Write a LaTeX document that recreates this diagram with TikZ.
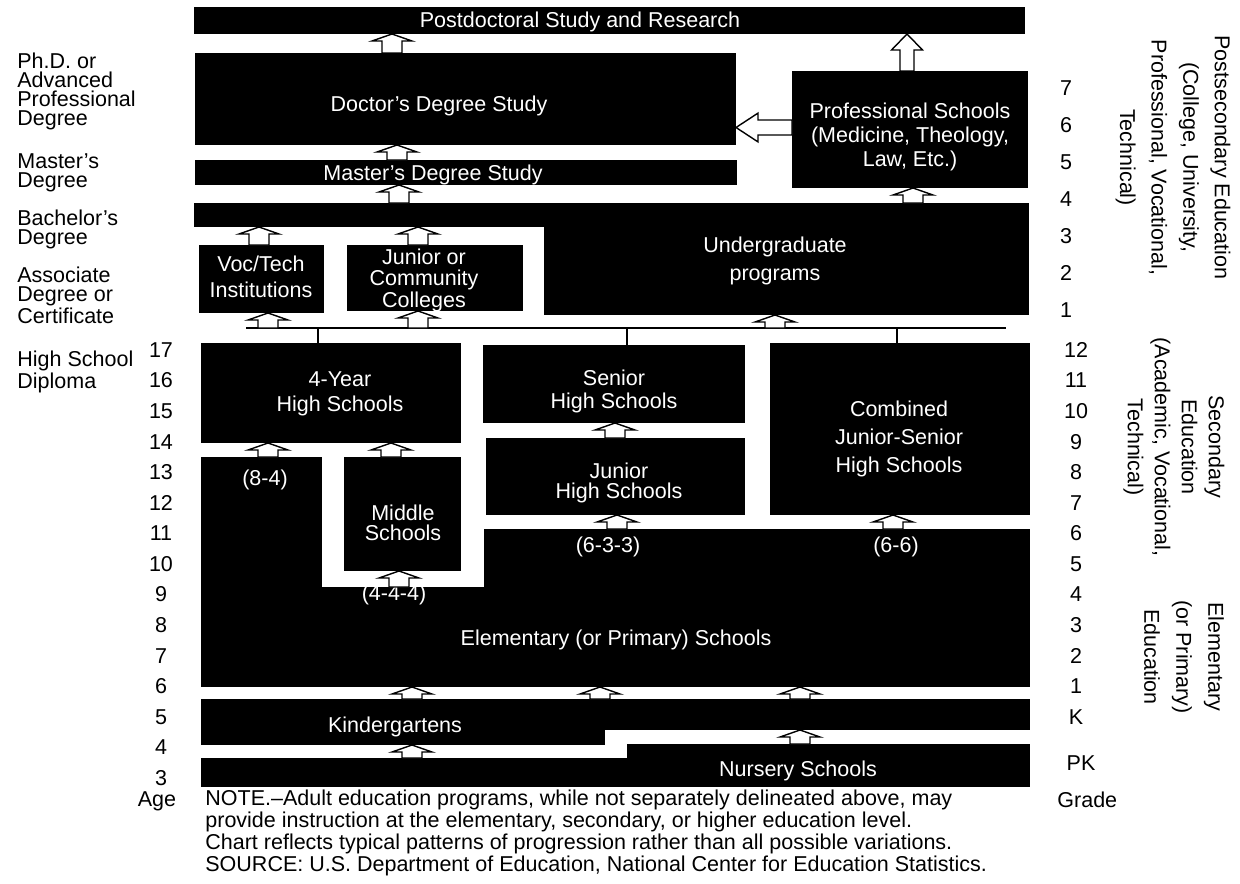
\documentclass[tikz,border=0pt]{standalone}
\usepackage{fontspec}
\setmainfont{Liberation Sans}
\usetikzlibrary{calc}

\newcommand{\fz}[1]{\fontsize{10.75pt}{#1pt}\selectfont}
% black box from (x1,y1) to (x2,y2), pixel units
\newcommand{\blkbox}[5]{\node[blk, anchor=north west,
  minimum width={(#4-#2)*0.5pt}, minimum height={(#5-#3)*0.5pt}] (#1) at (#2,#3) {};}
% small hollow arrow at x, from lower anchor up to upper anchor
\newcommand{\upblk}[3]{\draw[hollow] let \p1=(#1,0 |- #2), \p2=(#1,0 |- #3) in
  (\x1-5pt,\y1) -- (\x1-5pt,\y2-3.5pt) -- (\x1-10pt,\y2-3.5pt) -- (\x1,\y2)
  -- (\x1+10pt,\y2-3.5pt) -- (\x1+5pt,\y2-3.5pt) -- (\x1+5pt,\y1) -- cycle;}
\newcommand{\upbig}[3]{\draw[hollow] let \p1=(#1,0 |- #2), \p2=(#1,0 |- #3) in
  (\x1-3.5pt,\y1) -- (\x1-3.5pt,\y2-8pt) -- (\x1-7.75pt,\y2-8pt) -- (\x1,\y2)
  -- (\x1+7.75pt,\y2-8pt) -- (\x1+3.5pt,\y2-8pt) -- (\x1+3.5pt,\y1) -- cycle;}
\newcommand{\leftbig}[3]{\draw[hollow] let \p1=(0,#1 -| #2), \p2=(0,#1 -| #3) in
  (\x1,\y1-3.75pt) -- (\x2+11pt,\y1-3.75pt) -- (\x2+11pt,\y1-7.2pt) -- (\x2,\y1)
  -- (\x2+11pt,\y1+7.2pt) -- (\x2+11pt,\y1+3.75pt) -- (\x1,\y1+3.75pt) -- cycle;}

\tikzset{
  blk/.style={fill=black, inner sep=0pt, outer sep=0pt},
  intext/.style={text=white, align=center, inner sep=0pt},
  lab/.style={align=left, anchor=west, inner sep=0pt},
  side/.style={rotate=-90, align=center, inner sep=0pt},
  hollow/.style={draw=black, fill=white, line width=0.7pt, line join=miter},
}

\begin{document}
\begin{tikzpicture}[x=0.5pt, y=-0.5pt, font=\fz{11.5}]
\useasboundingbox (0,0) rectangle (1240,883);

% boxes
\blkbox{postdoc}{194}{7}{1025}{34}
\blkbox{doc}{195}{53}{736}{145}
\blkbox{master}{195}{160}{737}{185}
\blkbox{prof}{792}{71}{1028}{188}
\blkbox{bach}{194}{203}{1029}{227}
\blkbox{ugrad}{544}{203}{1029}{315}
\blkbox{voc}{199}{245}{324}{313}
\blkbox{jrcol}{347}{245}{523}{311}
\blkbox{hsfour}{201}{343}{461}{443}
\blkbox{senior}{483}{345}{745}{423}
\blkbox{combo}{770}{343}{1030}{515}
\blkbox{junior}{486}{438}{745}{515}
\blkbox{middle}{344}{457}{461}{571}
\blkbox{elemcol}{201}{457}{322}{687}
\blkbox{elemrt}{484}{529}{1030}{687}
\blkbox{elem}{201}{587}{1030}{687}
\blkbox{kg}{201}{699}{1030}{730}
\blkbox{kgleft}{201}{699}{605}{745}
\blkbox{nurrt}{627}{744}{1030}{787}
\blkbox{nur}{201}{758}{1030}{787}

% texts in boxes
\node[intext] (tpostdoc) at (580,21.5) {Postdoctoral Study and Research};
\node[intext] (tdoc) at (439,106) {Doctor's Degree Study};
\node[intext] (tmaster) at (433,175) {Master's Degree Study};
\node[intext, font=\fz{12}] (tprof) at (910,137) {Professional Schools\\(Medicine, Theology,\\Law, Etc.)};
\node[intext, font=\fz{14}] (tugrad) at (775,261) {Undergraduate\\programs};
\node[intext, font=\fz{13}] (tvoc) at (261,277) {Voc/Tech\\Institutions};
\node[intext, font=\fz{10.75}] (tjrcol) at (424,280) {Junior or\\Community\\Colleges};
\node[intext, font=\fz{12.5}] (thsfour) at (340,394) {4-Year\\High Schools};
\node[intext] (tsenior) at (614,391.5) {Senior\\High Schools};
\node[intext, font=\fz{14}] (tcombo) at (899,439) {Combined\\Junior-Senior\\High Schools};
\node[intext, font=\fz{10}] (tjunior) at (619,483) {Junior\\High Schools};
\node[intext, font=\fz{10}] (tmiddle) at (403,523) {Middle\\Schools};
\node[intext] (teightfour) at (265,480) {(8-4)};
\node[intext] (tsixthree) at (608,547) {(6-3-3)};
\node[intext] (tsixsix) at (896,547) {(6-6)};
\node[intext] (tfours) at (394,595) {(4-4-4)};
\node[intext] (telem) at (616,640) {Elementary (or Primary) Schools};
\node[intext] (tkg) at (395,727) {Kindergartens};
\node[intext] (tnur) at (798,771) {Nursery Schools};

% branching line
\coordinate (busL) at (246,328);
\coordinate (busR) at (1006,328);
\draw[line width=1pt] (busL) -- (busR);
\foreach \x/\b in {318/hsfour, 627/senior, 897/combo}
  \draw[line width=0.8pt] (\x,0 |- busL) -- (\x,0 |- \b.north);

% arrows
\upblk{392}{doc.north}{postdoc.south}
\upblk{397}{master.north}{doc.south}
\upblk{399}{bach.north}{master.south}
\upblk{913}{ugrad.north}{prof.south}
\upbig{907}{prof.north}{postdoc.south}
\leftbig{127.5}{prof.west}{doc.east}
\upblk{259}{voc.north}{bach.south}
\upblk{418}{jrcol.north}{bach.south}
\upblk{268}{busL}{voc.south}
\upblk{418}{busL}{jrcol.south}
\upblk{775}{busL}{ugrad.south}
\upblk{268}{elemcol.north}{hsfour.south}
\upblk{391}{middle.north}{hsfour.south}
\upblk{615}{junior.north}{senior.south}
\upblk{617}{elemrt.north}{junior.south}
\upblk{893}{elemrt.north}{combo.south}
\upblk{399}{elem.north}{middle.south}
\upblk{412}{kg.north}{elem.south}
\upblk{600}{kg.north}{elem.south}
\upblk{800}{kg.north}{elem.south}
\upblk{412}{nur.north}{kgleft.south}
\upblk{800}{nurrt.north}{kg.south}

% left degree labels
\node[lab, font=\fz{9.5}] (lphd) at (17,91) {Ph.D. or\\Advanced\\Professional\\Degree};
\node[lab, font=\fz{9.5}] (lmaster) at (17,173) {Master's\\Degree};
\node[lab, font=\fz{9.5}] (lbach) at (17,229) {Bachelor's\\Degree};
\node[lab, font=\fz{9.5}] (lassoc) at (17,295) {Associate\\Degree or\\Certificate};
\node[lab, font=\fz{10}] (lhs) at (17,372) {High School\\Diploma};

% ages
\foreach \a [count=\i from 0] in {17,16,...,3}
  \node (age\a) at (161,350+30.57*\i) {\a};
\node (agelab) at (157,801) {Age};

% grades
\foreach \g [count=\i from 0] in {7,6,...,1}
  \node (pg\g) at (1066,88+37*\i) {\g};
\foreach \g [count=\i from 0] in {12,11,10,9,8,7,6,5,4,3,2,1,K}
  \node (gr\g) at (1076,350+30.57*\i) {\g};
\node (grPK) at (1081,763) {PK};
\node[anchor=west, inner sep=0pt] (gradelab) at (1057,800) {Grade};

% side labels
\node[side, font=\fz{15.8}] (lpost) at (1173,157.5) {Postsecondary Education\\(College, University,\\Professional, Vocational,\\Technical)};
\node[side, font=\fz{13.5}] (lsec) at (1174,447) {Secondary\\Education\\(Academic, Vocational,\\Technical)};
\node[side, font=\fz{16}] (lelem) at (1184,657) {Elementary\\(or Primary)\\Education};

% note
\node[lab, font=\fz{9.6}] (note) at (205,833) {NOTE.--Adult education programs, while not separately delineated above, may\\provide instruction at the elementary, secondary, or higher education level.\\Chart reflects typical patterns of progression rather than all possible variations.\\SOURCE: U.S. Department of Education, National Center for Education Statistics.};
\end{tikzpicture}
\end{document}
